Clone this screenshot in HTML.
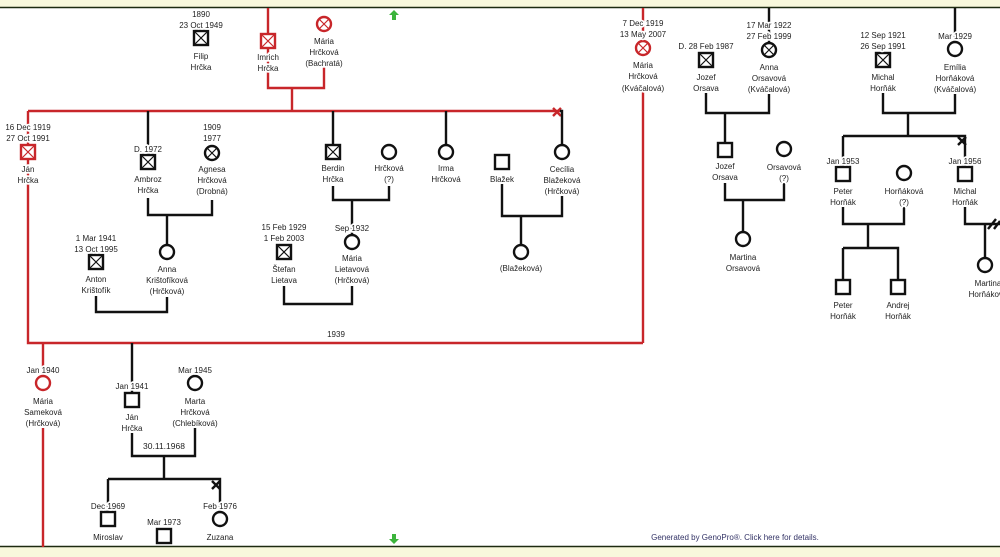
<!DOCTYPE html>
<html><head><meta charset="utf-8"><style>
html,body{margin:0;padding:0;background:#fff;}
svg{display:block;}
text{font-family:"Liberation Sans",sans-serif;font-size:8px;text-anchor:middle;fill:#222;stroke:#fff;stroke-width:3.5px;paint-order:stroke;stroke-linejoin:round;}
.k{stroke:#111;stroke-width:2.4;fill:none;}
.r{stroke:#c8262a;stroke-width:2.4;fill:none;}
.kl{stroke:#111;stroke-width:1.2;fill:none;}
.rl{stroke:#c8262a;stroke-width:1.2;fill:none;}
</style></head><body>
<svg width="1000" height="557" viewBox="0 0 1000 557" xmlns="http://www.w3.org/2000/svg">
<rect x="0" y="0" width="1000" height="7" fill="#f8f8dc"/>
<line x1="0" y1="7.5" x2="1000" y2="7.5" stroke="#1d2a10" stroke-width="1.5"/>
<rect x="0" y="547" width="1000" height="10" fill="#f8f8dc"/>
<line x1="0" y1="546.5" x2="1000" y2="546.5" stroke="#1d2a10" stroke-width="1.5"/>
<polygon points="394,10 399,15 396,15 396,20 392,20 392,15 389,15" fill="#3cb43c"/>
<polygon points="394,544 399,539 396,539 396,534 392,534 392,539 389,539" fill="#3cb43c"/>

<!-- red lines -->
<path class="r" d="M268 8V34 M268 48V88H324V66 M292 88V111 M28 111H560 M28 111V145 M28 160V343H643 M643 8V41 M643 92V343 M43 343V376 M43 428V547"/>
<path class="r" d="M553 108L561 116M561 108L553 116" stroke-width="2"/>
<!-- black lines -->
<path class="k" d="M560 111H562V145 M148 111V155 M148 198V215H212V200 M167 215V245 M96 296V312H167V297 M333 111V145 M333 186V200H389V186 M352 200V235 M284 286V304H352V286 M446 111V145 M502 184V216H562V196 M521 216V245 M769 8V43 M706 93V113H769V94 M725 113V143 M725 183V200H784V183 M743 200V232 M955 8V42 M883 93V113H955V94 M908 113V136 M843 136H965V167 M843 136V167 M843 207V224H904V207 M868 224V248 M843 248H898V280 M843 248V280 M965 207V224H1000 M985 224V258 M132 343V393 M132 433V456H195V428 M164 456V479 M108 479H220V512 M108 479V512"/>
<path class="k" d="M958 137L966 145M966 137L958 145" stroke-width="2"/>
<path class="k" d="M212 481L220 489M220 481L212 489" stroke-width="2"/>
<path class="k" d="M988 229L996 219M994 229L1000 221" stroke-width="1.5"/>

<!-- symbols -->
<g class="k" fill="#fff">
<rect x="194" y="31" width="14" height="14" fill="#fff"/><path class="kl" d="M194 31L208 45M208 31L194 45"/>
<rect x="141" y="155" width="14" height="14" fill="#fff"/><path class="kl" d="M141 155L155 169M155 155L141 169"/>
<circle cx="212" cy="153" r="7" fill="#fff"/><path class="kl" d="M207 148L217 158M217 148L207 158"/>
<circle cx="167" cy="252" r="7" fill="#fff"/>
<rect x="89" y="255" width="14" height="14" fill="#fff"/><path class="kl" d="M89 255L103 269M103 255L89 269"/>
<rect x="326" y="145" width="14" height="14" fill="#fff"/><path class="kl" d="M326 145L340 159M340 145L326 159"/>
<circle cx="389" cy="152" r="7" fill="#fff"/>
<circle cx="352" cy="242" r="7" fill="#fff"/>
<rect x="277" y="245" width="14" height="14" fill="#fff"/><path class="kl" d="M277 245L291 259M291 245L277 259"/>
<circle cx="446" cy="152" r="7" fill="#fff"/>
<rect x="495" y="155" width="14" height="14" fill="#fff"/>
<circle cx="562" cy="152" r="7" fill="#fff"/>
<circle cx="521" cy="252" r="7" fill="#fff"/>
<rect x="699" y="53" width="14" height="14" fill="#fff"/><path class="kl" d="M699 53L713 67M713 53L699 67"/>
<circle cx="769" cy="50" r="7" fill="#fff"/><path class="kl" d="M764 45L774 55M774 45L764 55"/>
<rect x="718" y="143" width="14" height="14" fill="#fff"/>
<circle cx="784" cy="149" r="7" fill="#fff"/>
<circle cx="743" cy="239" r="7" fill="#fff"/>
<rect x="876" y="53" width="14" height="14" fill="#fff"/><path class="kl" d="M876 53L890 67M890 53L876 67"/>
<circle cx="955" cy="49" r="7" fill="#fff"/>
<rect x="836" y="167" width="14" height="14" fill="#fff"/>
<circle cx="904" cy="173" r="7" fill="#fff"/>
<rect x="958" y="167" width="14" height="14" fill="#fff"/>
<rect x="836" y="280" width="14" height="14" fill="#fff"/>
<rect x="891" y="280" width="14" height="14" fill="#fff"/>
<circle cx="985" cy="265" r="7" fill="#fff"/>
<rect x="125" y="393" width="14" height="14" fill="#fff"/>
<circle cx="195" cy="383" r="7" fill="#fff"/>
<rect x="101" y="512" width="14" height="14" fill="#fff"/>
<rect x="157" y="529" width="14" height="14" fill="#fff"/>
<circle cx="220" cy="519" r="7" fill="#fff"/>
</g>
<g fill="#fff">
<rect class="r" x="261" y="34" width="14" height="14" fill="#fff"/><path class="rl" d="M261 34L275 48M275 34L261 48"/>
<circle class="r" cx="324" cy="24" r="7" fill="#fff"/><path class="rl" d="M319 19L329 29M329 19L319 29"/>
<rect class="r" x="21" y="145" width="14" height="14" fill="#fff"/><path class="rl" d="M21 145L35 159M35 145L21 159"/>
<circle class="r" cx="643" cy="48" r="7" fill="#fff"/><path class="rl" d="M638 43L648 53M648 43L638 53"/>
<circle class="r" cx="43" cy="383" r="7" fill="#fff"/>
</g>

<!-- labels -->
<text x="201" y="17">1890</text><text x="201" y="28">23 Oct 1949</text><text x="201" y="59">Filip</text><text x="201" y="70">Hrčka</text>
<text x="268" y="60">Imrich</text><text x="268" y="71">Hrčka</text>
<text x="324" y="44">Mária</text><text x="324" y="55">Hrčková</text><text x="324" y="66">(Bachratá)</text>
<text x="28" y="130">16 Dec 1919</text><text x="28" y="141">27 Oct 1991</text><text x="28" y="172">Ján</text><text x="28" y="183">Hrčka</text>
<text x="148" y="152">D. 1972</text><text x="148" y="182">Ambroz</text><text x="148" y="193">Hrčka</text>
<text x="212" y="130">1909</text><text x="212" y="141">1977</text><text x="212" y="172">Agnesa</text><text x="212" y="183">Hrčková</text><text x="212" y="194">(Drobná)</text>
<text x="96" y="241">1 Mar 1941</text><text x="96" y="252">13 Oct 1995</text><text x="96" y="282">Anton</text><text x="96" y="293">Krištofík</text>
<text x="167" y="272">Anna</text><text x="167" y="283">Krištofíková</text><text x="167" y="294">(Hrčková)</text>
<text x="333" y="171">Berdin</text><text x="333" y="182">Hrčka</text>
<text x="389" y="171">Hrčková</text><text x="389" y="182">(?)</text>
<text x="284" y="230">15 Feb 1929</text><text x="284" y="241">1 Feb 2003</text><text x="284" y="272">Štefan</text><text x="284" y="283">Lietava</text>
<text x="352" y="231">Sep 1932</text><text x="352" y="261">Mária</text><text x="352" y="272">Lietavová</text><text x="352" y="283">(Hrčková)</text>
<text x="446" y="171">Irma</text><text x="446" y="182">Hrčková</text>
<text x="502" y="182">Blažek</text>
<text x="562" y="172">Cecília</text><text x="562" y="183">Blažeková</text><text x="562" y="194">(Hrčková)</text>
<text x="521" y="271">(Blažeková)</text>
<text x="336" y="337">1939</text>
<text x="643" y="26">7 Dec 1919</text><text x="643" y="37">13 May 2007</text><text x="643" y="68">Mária</text><text x="643" y="79">Hrčková</text><text x="643" y="91">(Kváčalová)</text>
<text x="706" y="49">D. 28 Feb 1987</text><text x="706" y="80">Jozef</text><text x="706" y="91">Orsava</text>
<text x="769" y="28">17 Mar 1922</text><text x="769" y="39">27 Feb 1999</text><text x="769" y="70">Anna</text><text x="769" y="81">Orsavová</text><text x="769" y="92">(Kváčalová)</text>
<text x="725" y="169">Jozef</text><text x="725" y="180">Orsava</text>
<text x="784" y="170">Orsavová</text><text x="784" y="181">(?)</text>
<text x="743" y="260">Martina</text><text x="743" y="271">Orsavová</text>
<text x="883" y="38">12 Sep 1921</text><text x="883" y="49">26 Sep 1991</text><text x="883" y="80">Michal</text><text x="883" y="91">Horňák</text>
<text x="955" y="39">Mar 1929</text><text x="955" y="70">Emília</text><text x="955" y="81">Horňáková</text><text x="955" y="92">(Kváčalová)</text>
<text x="843" y="164">Jan 1953</text><text x="843" y="194">Peter</text><text x="843" y="205">Horňák</text>
<text x="904" y="194">Horňáková</text><text x="904" y="205">(?)</text>
<text x="965" y="164">Jan 1956</text><text x="965" y="194">Michal</text><text x="965" y="205">Horňák</text>
<text x="843" y="308">Peter</text><text x="843" y="319">Horňák</text>
<text x="898" y="308">Andrej</text><text x="898" y="319">Horňák</text>
<text x="988" y="286">Martina</text><text x="988" y="297">Horňáková</text>
<text x="43" y="373">Jan 1940</text><text x="43" y="404">Mária</text><text x="43" y="415">Sameková</text><text x="43" y="426">(Hrčková)</text>
<text x="132" y="389">Jan 1941</text><text x="132" y="420">Ján</text><text x="132" y="431">Hrčka</text>
<text x="195" y="373">Mar 1945</text><text x="195" y="404">Marta</text><text x="195" y="415">Hrčková</text><text x="195" y="426">(Chlebíková)</text>
<text x="164" y="449" style="font-size:8.5px">30.11.1968</text>
<text x="108" y="509">Dec 1969</text><text x="108" y="540">Miroslav</text>
<text x="164" y="525">Mar 1973</text>
<text x="220" y="509">Feb 1976</text><text x="220" y="540">Zuzana</text>
<text x="735" y="540" style="fill:#333366">Generated by GenoPro®. Click here for details.</text>
</svg>
</body></html>
